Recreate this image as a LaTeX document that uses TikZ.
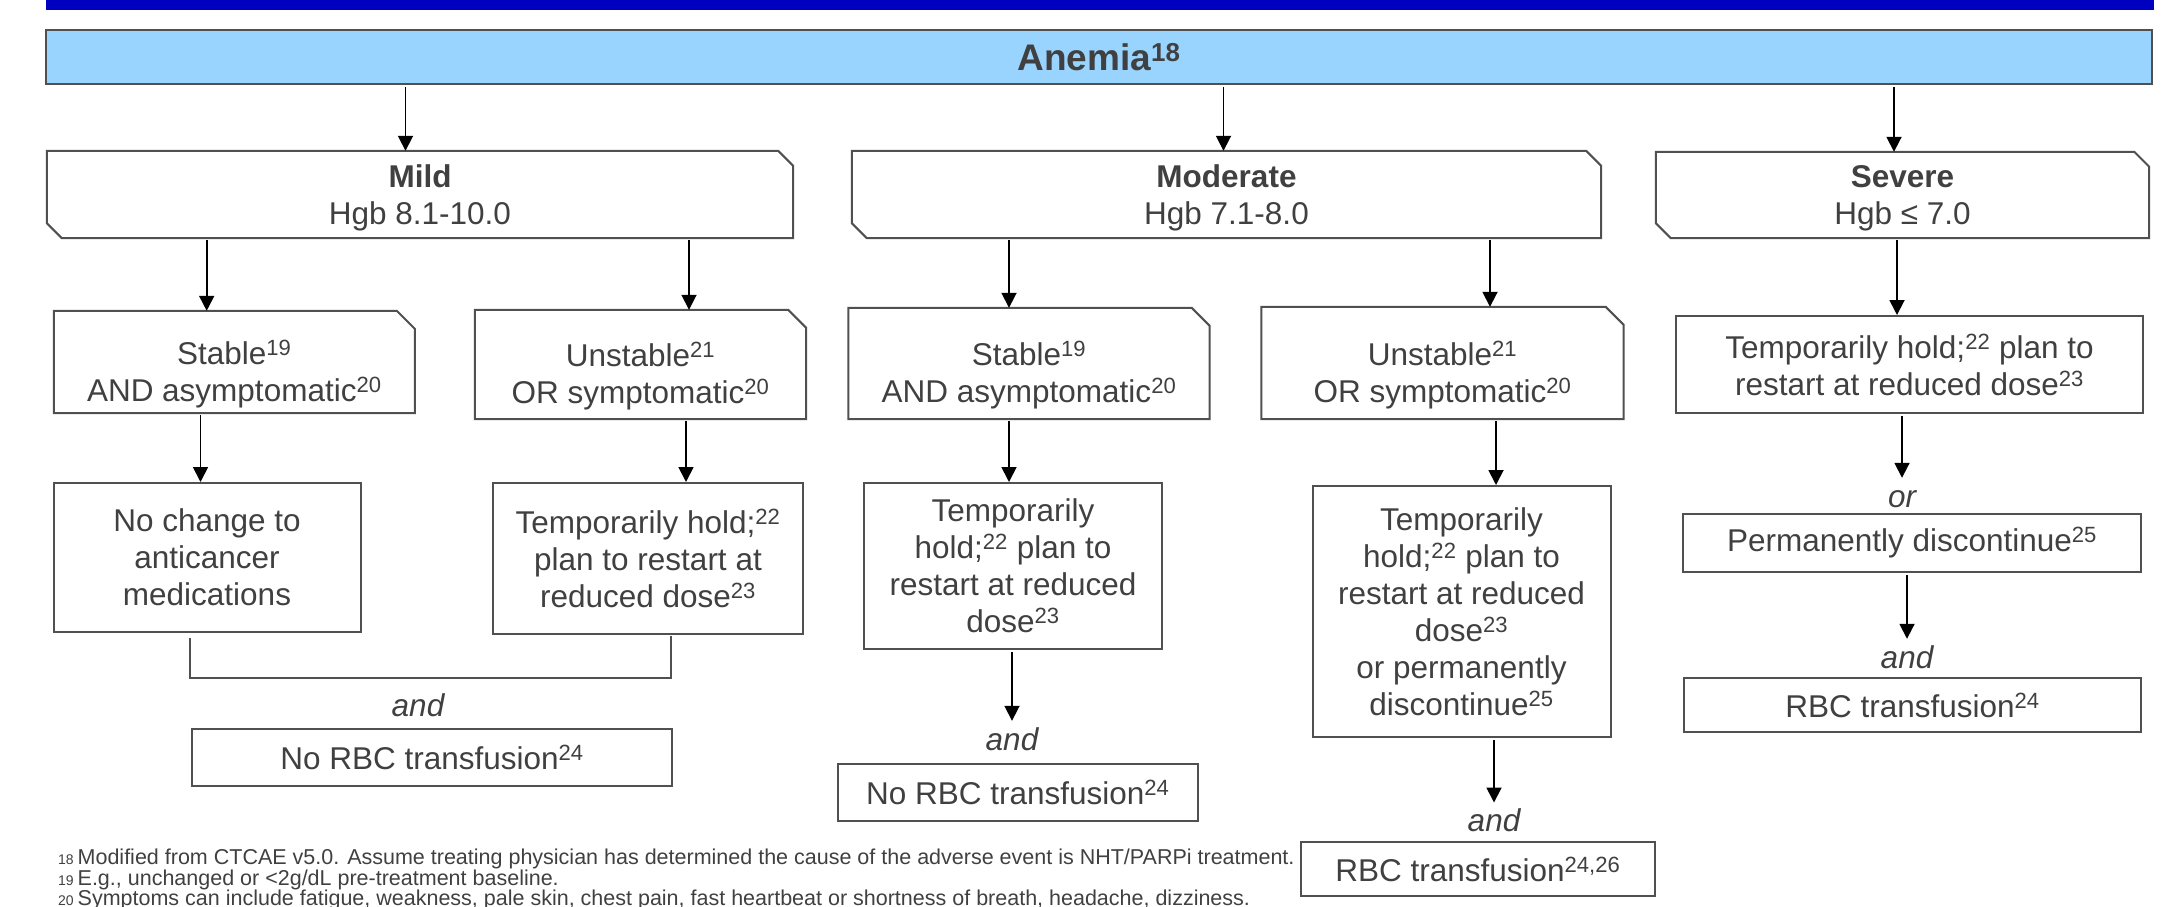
\documentclass[tikz,border=0pt]{standalone}
\usepackage{fontspec}
\setmainfont{Liberation Sans}
\usetikzlibrary{arrows.meta}
\definecolor{topblue}{RGB}{0,0,192}
\definecolor{barblue}{RGB}{153,212,255}
\definecolor{txtgray}{RGB}{64,64,64}
\definecolor{boxgray}{RGB}{80,80,80}

\begin{document}
\begin{tikzpicture}[x=1pt, y=-1pt,
    txt/.style={font=\fontsize{31.5}{37}\selectfont, text=txtgray, align=center, inner sep=0pt},
    box/.style={txt, draw=boxgray, line width=2pt},
    frame/.style={inner sep=0pt},
    edge/.style={draw=boxgray, line width=2pt},
    arr/.style={line width=1.8pt, shorten <=2pt, -{Triangle[width=15pt,length=15pt]}},
    conj/.style={txt, font=\fontsize{31.5}{37}\selectfont\itshape, text height=23pt, inner sep=6pt, anchor=base},
    note/.style={font=\fontsize{21.5}{21}\selectfont, text=txtgray, inner sep=0pt, anchor=base west}]
        \useasboundingbox (0,0) rectangle (2166,906);
        \fill[topblue] (46,0) rectangle (2154,10);

        % grade header
        \node[box, fill=barblue, minimum width=2106, minimum height=54, font=\fontsize{37}{40}\selectfont\bfseries] (anemia) at (1099,57) {Anemia\textsuperscript{18}};

        \node[frame, minimum width=746, minimum height=87, label={[txt, yshift=-3]center:\textbf{Mild}\\Hgb 8.1-10.0}] (mild) at (420,194.5) {};
        \node[frame, minimum width=749, minimum height=87, label={[txt, yshift=-3]center:\textbf{Moderate}\\Hgb 7.1-8.0}] (moderate) at (1226.5,194.5) {};
        \node[frame, minimum width=493, minimum height=86, label={[txt, yshift=-3]center:\textbf{Severe}\\Hgb ≤ 7.0}] (severe) at (1902.5,195) {};
        \foreach \n in {mild, moderate, severe}
        \draw[edge] ([xshift=15]\n.south west) -- ([yshift=15]\n.south west) -- (\n.north west) -- ([xshift=-15]\n.north east) -- ([yshift=-15]\n.north east) -- (\n.south east) -- cycle;

        % stable / unstable
        \node[frame, minimum width=360.6, minimum height=102, label={[txt, yshift=-12]center:Stable\textsuperscript{19}\\AND asymptomatic\textsuperscript{20}}] (mildst) at (234.3,362) {};
        \node[frame, minimum width=331, minimum height=109, label={[txt, yshift=-12]center:Unstable\textsuperscript{21}\\OR symptomatic\textsuperscript{20}}] (mildun) at (640.5,364.5) {};
        \node[frame, minimum width=361, minimum height=111, label={[txt, yshift=-12]center:Stable\textsuperscript{19}\\AND asymptomatic\textsuperscript{20}}] (modst) at (1029,363.5) {};
        \node[frame, minimum width=362, minimum height=112, label={[txt, yshift=-12]center:Unstable\textsuperscript{21}\\OR symptomatic\textsuperscript{20}}] (modun) at (1442.5,363) {};
        \foreach \n in {mildst, mildun, modst, modun}
        \draw[edge] (\n.south west) -- (\n.north west) -- ([xshift=-18]\n.north east) -- ([yshift=-18]\n.north east) -- (\n.south east) -- cycle;
        \node[box, minimum width=467, minimum height=97] (sevth) at (1909.5,364.5) {Temporarily hold;\textsuperscript{22} plan to\\restart at reduced dose\textsuperscript{23}};

        % actions
        \node[box, minimum width=307, minimum height=149] (mildnc) at (207,557.5) {No change to\\anticancer\\medications};
        \node[box, minimum width=310, minimum height=151] (mildth) at (648,558.5) {Temporarily hold;\textsuperscript{22}\\plan to restart at\\reduced dose\textsuperscript{23}};
        \node[box, minimum width=298.5, minimum height=166] (modth) at (1013,566) {Temporarily\\hold;\textsuperscript{22} plan to\\restart at reduced\\dose\textsuperscript{23}};
        \node[box, minimum width=298, minimum height=251] (modunth) at (1461.5,611.5) {Temporarily\\hold;\textsuperscript{22} plan to\\restart at reduced\\dose\textsuperscript{23}\\or permanently\\discontinue\textsuperscript{25}};
        \node[conj] (sevor) at (1902,507) {or};
        \node[box, minimum width=458, minimum height=58] (sevpd) at (1912,543) {Permanently discontinue\textsuperscript{25}};

        % transfusion
        \node[conj] (mildand) at (418,716.7) {and};
        \node[conj] (modand) at (1012,750) {and};
        \node[conj] (modunand) at (1494,831.7) {and};
        \node[conj] (sevand) at (1907,668) {and};
        \node[box, minimum width=480, minimum height=57] (mildrbc) at (432,757.5) {No RBC transfusion\textsuperscript{24}};
        \node[box, minimum width=360.5, minimum height=57] (modrbc) at (1017.75,792.5) {No RBC transfusion\textsuperscript{24}};
        \node[box, minimum width=354.4, minimum height=54] (modunrbc) at (1477.8,869) {RBC transfusion\textsuperscript{24,26}};
        \node[box, minimum width=457, minimum height=54] (sevrbc) at (1912.5,705) {RBC transfusion\textsuperscript{24}};

        \foreach \a/\b/\s in {anemia/mild/-14.5, anemia/moderate/-3, anemia/severe/-8.5,
            mild/mildst/-27.6, mild/mildun/48.5, moderate/modst/-20, moderate/modun/47.5, severe/sevth/-12.5,
            mildst/mildnc/-6.5, mildun/mildth/38, modst/modth/-4, modun/modunth/34.5,
            sevth/sevor/0, sevpd/sevand/0, modth/modand/0, modunth/modunand/0}
        \draw[arr] ([xshift=\s]\b.north |- \a.south) -- ([xshift=\s]\b.north);
        \draw[edge] ([xshift=-17,yshift=-5]mildnc.south) -- ++(0,40) -| ([xshift=23,yshift=-1]mildth.south);

        % footnotes
        \node[note] (fn18) at (58,864) {{\fontsize{14}{14}\selectfont 18 }Modified from CTCAE v5.0. Assume treating physician has determined the cause of the adverse event is NHT/PARPi treatment.};
        \node[note] (fn19) at (58,885) {{\fontsize{14}{14}\selectfont 19 }E.g., unchanged or <2g/dL pre-treatment baseline.};
        \node[note] (fn20) at (58,905.5) {{\fontsize{14}{14}\selectfont 20 }Symptoms can include fatigue, weakness, pale skin, chest pain, fast heartbeat or shortness of breath, headache, dizziness.};
        \end{tikzpicture}
\end{document}
